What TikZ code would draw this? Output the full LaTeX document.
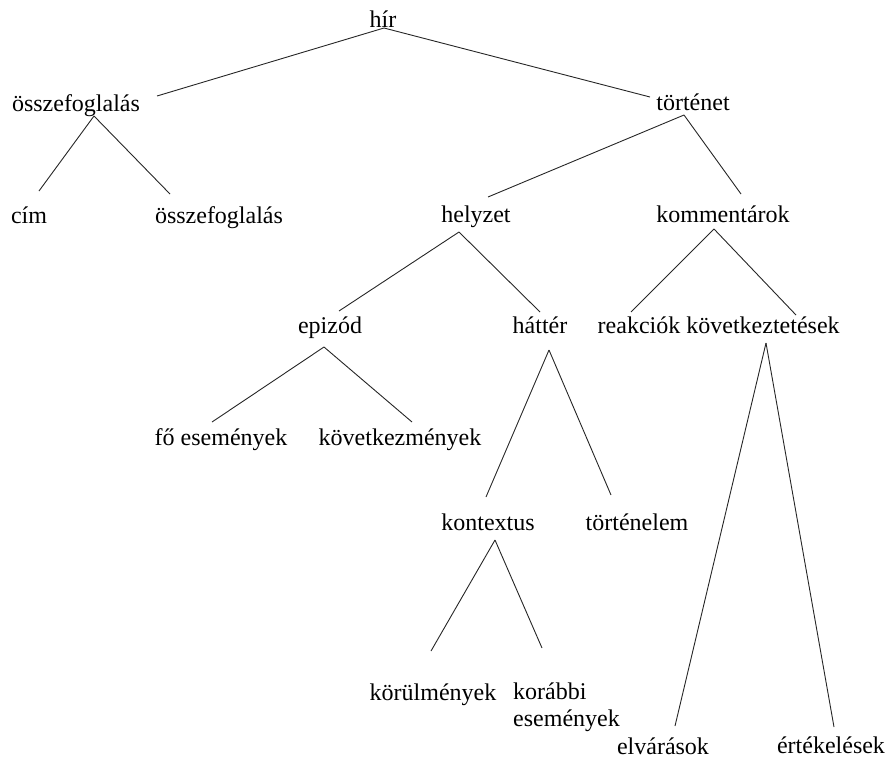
\documentclass[tikz,border=0pt]{standalone}
\usepackage{fontspec}
\setmainfont{Liberation Serif}
\begin{document}
\begin{tikzpicture}[x=1pt,y=-1pt,
  lbl/.style={anchor=base,inner sep=0pt,font=\fontsize{24}{27}\selectfont},
  edge/.style={draw=black!85,line width=0.9pt}]
\useasboundingbox (0,0) rectangle (886,758);
\node[lbl] (hir) at (383,27) {hír};
\node[lbl] (osz1) at (76,111) {összefoglalás};
\node[lbl] (tort) at (693,110) {történet};
\node[lbl] (cim) at (29,223) {cím};
\node[lbl] (osz2) at (219,223) {összefoglalás};
\node[lbl] (helyzet) at (476,222) {helyzet};
\node[lbl] (komm) at (723,222) {kommentárok};
\node[lbl] (epizod) at (330,333) {epizód};
\node[lbl] (hatter) at (540,333) {háttér};
\node[lbl] (reakc) at (639,333) {reakciók};
\node[lbl] (kovetk) at (763,333) {következtetések};
\node[lbl] (foesem) at (221,445) {fő események};
\node[lbl] (kovm) at (400,445) {következmények};
\node[lbl] (kontext) at (488,530) {kontextus};
\node[lbl] (tortel) at (637,530) {történelem};
\node[lbl] (korulm) at (433,700) {körülmények};
\node[lbl,anchor=north west,align=left] (korabbi) at (513,683) {korábbi\\események};
\node[lbl] (elvar) at (663,754) {elvárások};
\node[lbl] (ertek) at (831,753) {értékelések};

\path[edge] ([shift={(1,1)}]hir.base) -- ([shift={(81,-15)}]osz1.base);
\path[edge] ([shift={(1,1)}]hir.base) -- ([shift={(-43,-13)}]tort.base);
\path[edge] ([shift={(18,5)}]osz1.base) -- ([shift={(10,-32)}]cim.base);
\path[edge] ([shift={(18,5)}]osz1.base) -- ([shift={(-49,-29)}]osz2.base);
\path[edge] ([shift={(-9,5)}]tort.base) -- ([shift={(12,-25)}]helyzet.base);
\path[edge] ([shift={(-9,5)}]tort.base) -- ([shift={(18,-28)}]komm.base);
\path[edge] ([shift={(-17,10)}]helyzet.base) -- ([shift={(9,-22)}]epizod.base);
\path[edge] ([shift={(-17,10)}]helyzet.base) -- ([shift={(0,-21)}]hatter.base);
\path[edge] ([shift={(-6,14)}]epizod.base) -- ([shift={(-9,-23)}]foesem.base);
\path[edge] ([shift={(-6,14)}]epizod.base) -- ([shift={(12,-23)}]kovm.base);
\path[edge] ([shift={(9,17)}]hatter.base) -- ([shift={(-2,-33)}]kontext.base);
\path[edge] ([shift={(9,17)}]hatter.base) -- ([shift={(-26,-35)}]tortel.base);
\path[edge] ([shift={(-9,7)}]komm.base) -- ([shift={(-8,-21)}]reakc.base);
\path[edge] ([shift={(-9,7)}]komm.base) -- ([shift={(33,-18)}]kovetk.base);
\path[edge] ([shift={(7,10)}]kontext.base) -- ([shift={(-2,-49)}]korulm.base);
\path[edge] ([shift={(7,10)}]kontext.base) -- ([shift={(29,-35)}]korabbi.north west);
\path[edge] ([shift={(3,10)}]kovetk.base) -- ([shift={(12,-28)}]elvar.base);
\path[edge] ([shift={(3,10)}]kovetk.base) -- ([shift={(3,-26)}]ertek.base);
\end{tikzpicture}
\end{document}
